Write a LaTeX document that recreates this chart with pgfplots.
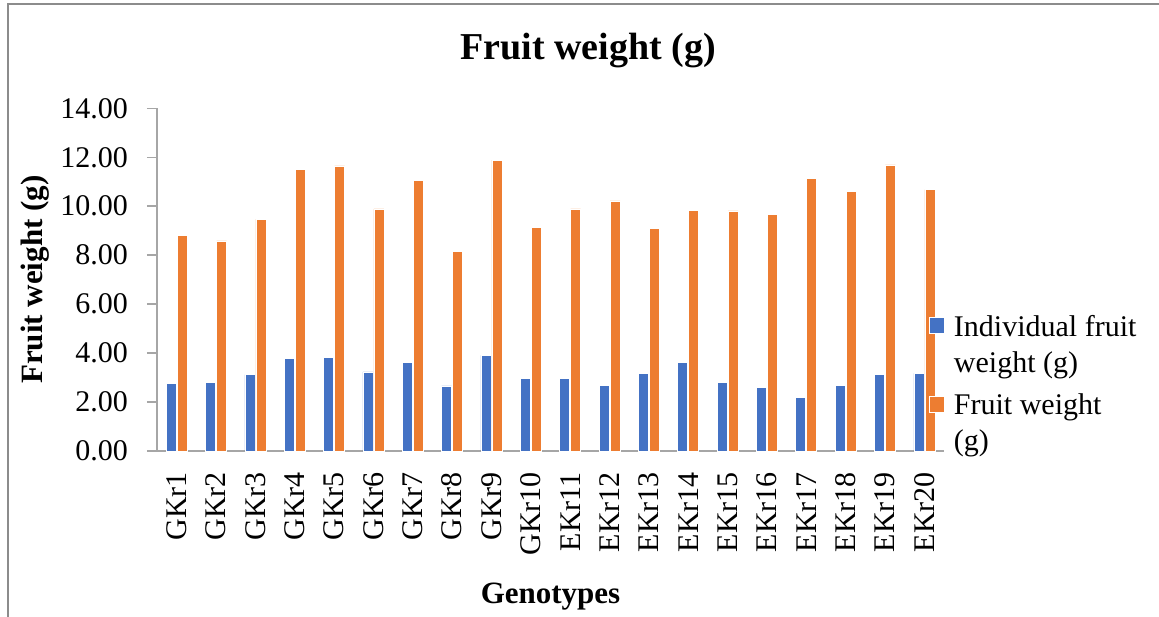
\documentclass[border=0pt]{standalone}
\usepackage{pgfplots}
\usepackage{pgfplotstable}
\pgfplotsset{compat=1.18}
\usepackage{fontspec}
\setmainfont{Liberation Serif}
\definecolor{cblue}{HTML}{4472C4}
\definecolor{corange}{HTML}{ED7D31}
\definecolor{axgray}{HTML}{A6A6A6}
\definecolor{framegray}{HTML}{8C8C8C}

\pgfplotstableread{
x ind fw
0 2.77 8.80
1 2.81 8.58
2 3.12 9.47
3 3.77 11.49
4 3.83 11.65
5 3.23 9.89
6 3.62 11.06
7 2.66 8.14
8 3.91 11.88
9 2.98 9.13
10 2.97 9.89
11 2.68 10.22
12 3.17 9.08
13 3.62 9.82
14 2.81 9.81
15 2.61 9.65
16 2.19 11.12
17 2.68 10.60
18 3.12 11.69
19 3.17 10.68
}\datatable

\newcommand{\twolines}[2]{\vtop{\baselineskip=36pt\hbox{\strut #1}\hbox{\strut #2}}}

\begin{document}
\begin{tikzpicture}[x=1pt,y=1pt]
\path[use as bounding box] (0,0) rectangle (1159,616);
\draw[framegray, line width=1.5pt] (8,-20) -- (8,612) -- (1180,612);
\begin{axis}[
  at={(157pt,165pt)}, anchor=south west,
  width=787pt, height=342.7pt, scale only axis,
  xmin=-0.5, xmax=19.5, ymin=0, ymax=14,
  enlargelimits=false,
  ybar=1pt, bar width=10pt,
  axis x line*=bottom, axis y line*=left,
  axis line style={draw=axgray, line width=1.5pt},
  tick align=outside, major tick length=10pt,
  xtick={0,...,19},
  xticklabels={GKr1,GKr2,GKr3,GKr4,GKr5,GKr6,GKr7,GKr8,GKr9,GKr10,EKr11,EKr12,EKr13,EKr14,EKr15,EKr16,EKr17,EKr18,EKr19,EKr20},
  xtick style={draw=none},
  ytick={0,2,...,14},
  ytick style={draw=axgray, line width=1.5pt},
  tick label style={font=\fontsize{30}{36}\selectfont},
  xticklabel style={rotate=90, anchor=east, inner sep=0pt},
  xticklabel shift=11pt,
  yticklabel style={anchor=east, inner sep=0pt, xshift=-19pt},
  /pgf/number format/.cd, fixed, fixed zerofill, precision=2, assume math mode=true, /pgfplots/.cd,
  title={Fruit weight (g)},
  title style={at={(axis description cs:0.5477,1.126)}, anchor=base, font=\bfseries\fontsize{38}{44}\selectfont},
  xlabel={Genotypes},
  xlabel style={at={(axis description cs:0.5,-0.444)}, anchor=base, font=\bfseries\fontsize{31}{37}\selectfont},
  ylabel={Fruit weight (g)},
  ylabel style={at={(axis description cs:-0.155,0.5)}, anchor=center, rotate=0, font=\bfseries\fontsize{31}{37}\selectfont},
  legend style={at={(axis description cs:0.9809,0.4091)}, anchor=north west, draw=none, fill=none, inner sep=0pt,
    font=\fontsize{30}{36}\selectfont, row sep=52pt, nodes={inner sep=0pt},
    /tikz/every odd column/.append style={column sep=9pt}},
  legend cell align=left,
  legend image code/.code={\draw[#1, draw=white, line width=0.8pt] (0pt,-9pt) rectangle (15pt,7pt);},
]
\addplot[fill=cblue, draw=white, line width=0.6pt] table[x=x,y=ind]{\datatable};
\addlegendentry{\twolines{Individual fruit}{weight (g)}}
\addplot[fill=corange, draw=white, line width=0.6pt] table[x=x,y=fw]{\datatable};
\addlegendentry{\twolines{Fruit weight}{(g)}}
\end{axis}
\end{tikzpicture}
\end{document}
